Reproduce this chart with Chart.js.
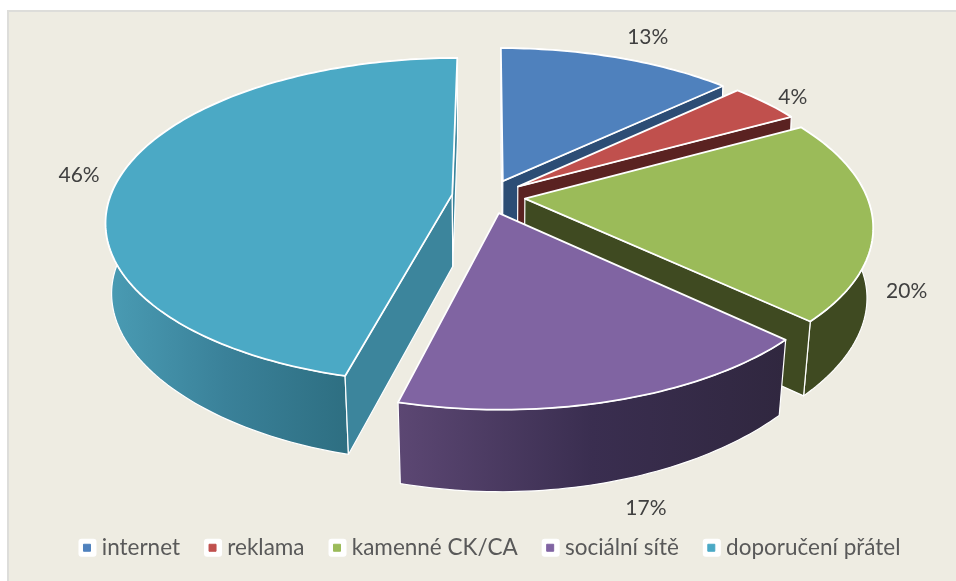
<!DOCTYPE html>
<html><head><meta charset="utf-8">
<style>html,body{margin:0;padding:0;background:#fff}canvas{display:block}</style>
<script src="https://cdn.jsdelivr.net/npm/chart.js@4"></script>
</head><body><canvas id="c" width="956" height="581"></canvas>
<script>
const categories = ['internet','reklama','kamenné CK/CA','sociální sítě','doporučení přátel'];
const shares = [13,4,20,17,46];
const valueLabels = ['13%','4%','20%','17%','46%'];
const topColors = ['#4F81BD','#C0504D','#9BBB59','#8064A2','#4BA9C5'];
const faceColors = ['#2C4D75','#5A2221','#3F4A21','#30273F','#3C859C'];
const wallStops = [['#2C4D75','#2C4D75'],['#5A2221','#5A2221'],['#3F4A21','#3F4A21'],['#5C4773','#3A2E50','#30273F'],['#4A9CB4','#3A8199','#2E6F82']];
const drawOrder = [0,1,4,2,3];
const labelNudges = [[30,-20],[27,-6],[34,72],[30,108],[-42,0]];

const EXPLODE = 0.107;
const cam = {cx:488.5, k:0.161, sx:342, sy:159, cy:196.5,
             kbx:0.153, kb:0.208, sxb:337, syb:156, cyb:268.5};
const top3 = (u,v)=>{const w=1-cam.k*v;return [cam.cx+cam.sx*u/w, cam.cy+cam.sy*v/w];};
const bot3 = (u,v)=>[cam.cx+cam.sxb*u/(1-cam.kbx*v), cam.cyb+cam.syb*v/(1-cam.kb*v)];

function poly(ctx,pts){ctx.beginPath();pts.forEach((p,i)=>i?ctx.lineTo(p[0],p[1]):ctx.moveTo(p[0],p[1]));ctx.closePath();}
function area(pts){let s=0;pts.forEach((p,i)=>{const q=pts[(i+1)%pts.length];s+=p[0]*q[1]-q[0]*p[1];});return s;}

const pie3d = {
  id:'pie3d',
  beforeDraw(chart){
    const ctx=chart.ctx;
    ctx.save();
    ctx.fillStyle='#ffffff';ctx.fillRect(0,0,chart.width,chart.height);
    ctx.fillStyle='#DDDDDA';ctx.fillRect(7,10,chart.width-7,chart.height-10);
    ctx.fillStyle='#EEECE2';ctx.fillRect(9,12,chart.width-9,chart.height-12);
    ctx.fillStyle='#ffffff';
    (chart.legend.legendHitBoxes||[]).forEach(h=>{
      const mid=h.top+h.height/2;
      ctx.beginPath();ctx.roundRect(h.left-5,mid-9,18,18,3);ctx.fill();
    });
    ctx.restore();
  },
  beforeDatasetsDraw(chart){
    const ctx=chart.ctx, meta=chart.getDatasetMeta(0);
    const geo=meta.data.map(el=>{
      const p=el.getProps(['startAngle','endAngle','outerRadius'],true);
      const mid=(p.startAngle+p.endAngle)/2;
      const ou=Math.cos(mid)*EXPLODE, ov=Math.sin(mid)*EXPLODE;
      const rim=[];const n=Math.max(8,Math.ceil((p.endAngle-p.startAngle)/0.02));
      for(let i=0;i<=n;i++){const a=p.startAngle+(p.endAngle-p.startAngle)*i/n;rim.push([ou+Math.cos(a),ov+Math.sin(a)]);}
      return {mid,ou,ov,rim};
    });
    ctx.save();
    ctx.lineJoin='round';
    drawOrder.forEach(i=>{
      const g=geo[i];
      const first=g.rim[0], last=g.rim[g.rim.length-1];
      ctx.strokeStyle='#ffffff';ctx.lineWidth=1.2;
      // outer curved wall
      const pts=g.rim.map(r=>top3(r[0],r[1])).concat(g.rim.slice().reverse().map(r=>bot3(r[0],r[1])));
      const front=g.rim.filter(r=>r[1]>g.ov);
      const xs=(front.length?front:g.rim).map(r=>top3(r[0],r[1])[0]);
      const gr=ctx.createLinearGradient(Math.min(...xs),0,Math.max(...xs),0);
      wallStops[i].forEach((c,j,a)=>gr.addColorStop(j/(a.length-1),c));
      poly(ctx,pts);ctx.fillStyle=gr;ctx.fill();ctx.stroke();
      // radial end faces, only those turned towards the viewer
      [[first,-1],[last,1]].forEach(([e,sign])=>{
        const q=[top3(g.ou,g.ov),top3(e[0],e[1]),bot3(e[0],e[1]),bot3(g.ou,g.ov)];
        if(area(q)*sign<=0) return;
        poly(ctx,q);
        ctx.fillStyle=faceColors[i];ctx.fill();ctx.stroke();
      });
      // top face
      poly(ctx,[top3(g.ou,g.ov)].concat(g.rim.map(r=>top3(r[0],r[1]))));
      ctx.fillStyle=topColors[i];ctx.fill();
      ctx.lineWidth=1.8;ctx.stroke();
    });
    // value labels
    ctx.font='21px Lato';ctx.fillStyle='#404040';ctx.textAlign='center';ctx.textBaseline='middle';
    geo.forEach((g,i)=>{
      const m=top3(g.ou+Math.cos(g.mid),g.ov+Math.sin(g.mid));
      ctx.fillText(valueLabels[i],m[0]+labelNudges[i][0],m[1]+labelNudges[i][1]);
    });
    ctx.restore();
    return false;
  }
};

new Chart(document.getElementById('c'),{
  type:'pie',
  data:{labels:categories,datasets:[{data:shares,backgroundColor:topColors,borderColor:'#ffffff',borderWidth:1}]},
  options:{
    responsive:false,animation:false,
    layout:{padding:{bottom:12,left:28}},
    plugins:{
      tooltip:{enabled:false},
      legend:{position:'bottom',labels:{
        font:{family:'Lato',size:22.5},color:'#595959',boxWidth:7,boxHeight:7,padding:29,
        generateLabels(chart){
          return Chart.overrides.pie.plugins.legend.labels.generateLabels(chart).map(l=>({...l,lineWidth:1,strokeStyle:l.fillStyle}));
        }
      }}
    }
  },
  plugins:[pie3d]
});
</script></body></html>
